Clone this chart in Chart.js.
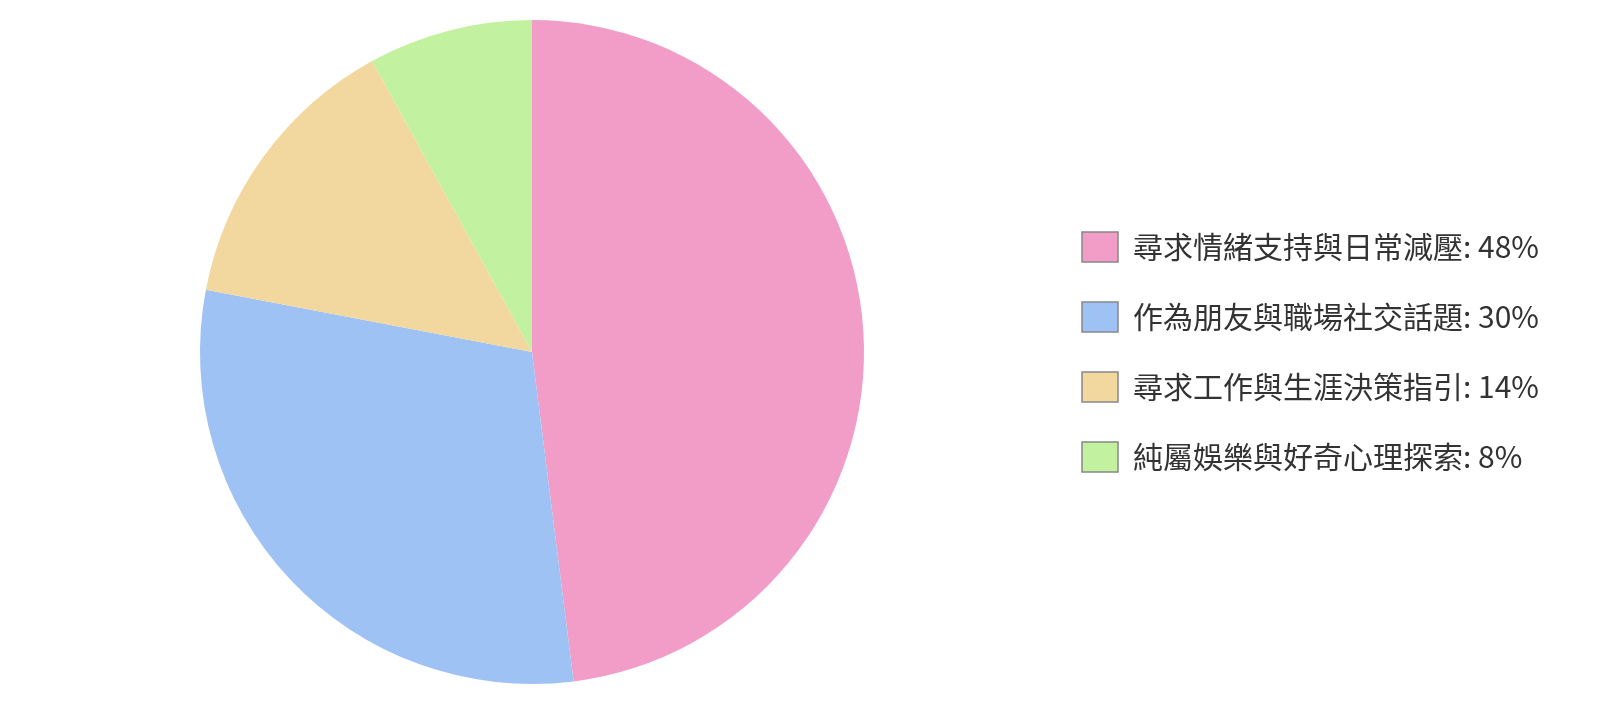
<!DOCTYPE html>
<html>
<head>
<meta charset="utf-8">
<script src="https://cdn.jsdelivr.net/npm/chart.js@4/dist/chart.umd.min.js"></script>
<style>
  body { margin: 0; background: #fff; }
  #wrap { width: 1600px; height: 705px; position: relative; }
</style>
</head>
<body>
<div id="wrap"><canvas id="pieChart"></canvas></div>
<script>
// chart data
const categories = ['尋求情緒支持與日常減壓', '作為朋友與職場社交話題', '尋求工作與生涯決策指引', '純屬娛樂與好奇心理探索'];
const shares = [48, 30, 14, 8];
const sliceColors = ['#f29dc7', '#9ec2f4', '#f2d89e', '#c2f2a0'];

document.addEventListener('DOMContentLoaded', function() {
    const ctx = document.getElementById('pieChart').getContext('2d');
    new Chart(ctx, {
        type: 'pie',
        data: {
            labels: categories,
            datasets: [{
                data: shares,
                backgroundColor: sliceColors,
                borderWidth: 0
            }]
        },
        options: {
            responsive: true,
            maintainAspectRatio: false,
            animation: false,
            layout: {
                padding: { left: 22, right: 51, top: 20, bottom: 21 }
            },
            plugins: {
                tooltip: { enabled: false },
                legend: {
                    position: 'right',
                    labels: {
                        boxWidth: 36,
                        boxHeight: 30,
                        padding: 40,
                        color: '#333',
                        font: { family: '"Noto Sans CJK TC", "Noto Sans", sans-serif', size: 30 },
                        generateLabels: function(chart) {
                            return categories.map(function(name, i) {
                                return {
                                    text: name + ': ' + shares[i] + '%',
                                    fillStyle: sliceColors[i],
                                    strokeStyle: '#888',
                                    lineWidth: 1.5,
                                    fontColor: '#333',
                                    hidden: false,
                                    index: i
                                };
                            });
                        }
                    }
                }
            }
        }
    });
});
</script>
</body>
</html>
